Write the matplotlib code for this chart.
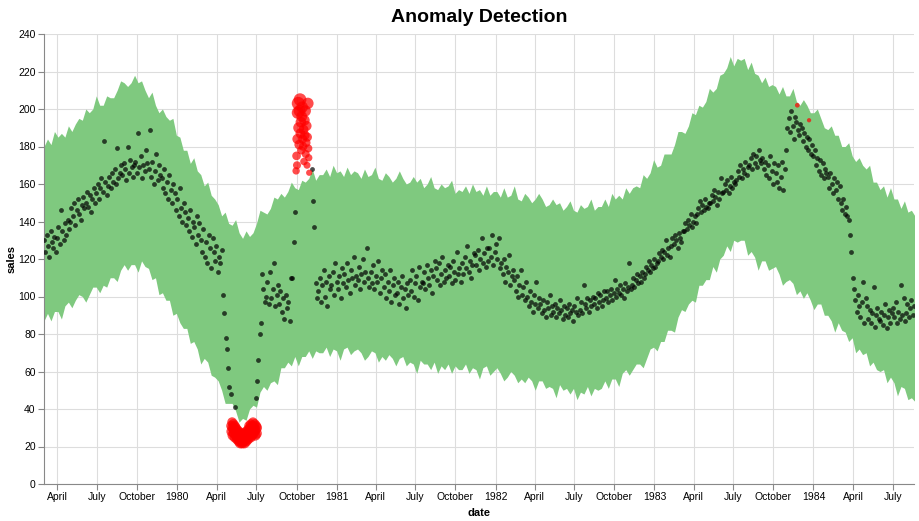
import numpy as np
import pandas as pd
import matplotlib
matplotlib.use('Agg')
import matplotlib.pyplot as plt
import matplotlib.dates as mdates

plt.rcParams['font.family'] = ['Liberation Sans', 'DejaVu Sans']

# observed sales, one reading every 3 days from 1979-03-01
# (None where the reading is flagged as an anomaly, those are listed below)
sales = [
    130, 124, 133, 127, 121, 135, 129, 126, 132, 124,
    131, 137, 128, 146, 135, 130, 139, 133, 141, 136,
    140, 147, 143, 150, 138, 146, 152, 144, 141, 149,
    153, 147, 150, 156, 148, 154, 145, 152, 158, 150,
    155, 160, 152, 158, 163, 156, 183, 161, 154, 159,
    164, 158, 166, 161, 168, 160, 179, 163, 166, 170,
    165, 171, 168, 162, 180, 166, 173, 169, 164, 170,
    172, 166, 187, 169, 175, 163, 170, 167, 178, 171,
    168, 189, 164, 172, 160, 167, 176, 162, 170, 165,
    163, 158, 168, 155, 161, 152, 165, 157, 150, 160,
    155, 146, 152, 143, 158, 147, 140, 150, 145, 138,
    142, 135, 146, 132, 140, 137, 128, 143, 133, 139,
    130, 124, 136, 121, 129, 118, 133, 126, 115, 131,
    124, 119, 127, 113, 121, 118, 125, 101, 91, 78,
    72, 62, 52, 48, None, None, 41, None, None, None,
    None, None, None, None, None, None, None, None, None, None,
    None, None, 46, 55, 66, 80, 86, 112, 104, 97,
    100, 108, 96, 113, 99, 104, 118, 95, 101, 106,
    96, 103, 92, 99, 88, 101, 94, 97, 87, 110,
    110, 129, 145, None, None, None, None, None, None, None,
    None, None, None, None, None, 168, 151, 137, 107, 99,
    103, 110, 97, 106, 114, 100, 108, 95, 111, 104,
    106, 113, 101, 118, 108, 104, 111, 99, 115, 107,
    112, 105, 118, 109, 102, 114, 110, 121, 106, 111,
    109, 116, 104, 112, 120, 108, 113, 126, 110, 105,
    113, 107, 117, 104, 111, 108, 119, 102, 110, 114,
    105, 112, 99, 108, 103, 114, 97, 106, 110, 101,
    102, 108, 96, 105, 111, 99, 104, 94, 107, 101,
    109, 103, 114, 100, 107, 111, 98, 116, 105, 108,
    107, 113, 104, 117, 110, 106, 114, 102, 111, 119,
    115, 109, 118, 106, 112, 121, 108, 114, 110, 117,
    111, 116, 107, 119, 113, 109, 124, 112, 115, 108,
    118, 112, 121, 115, 127, 113, 119, 110, 117, 123,
    122, 117, 125, 114, 120, 131, 118, 123, 116, 126,
    119, 126, 121, 133, 117, 124, 128, 120, 131, 115,
    118, 112, 120, 108, 116, 113, 122, 106, 111, 114,
    109, 103, 111, 100, 106, 114, 101, 105, 98, 108,
    100, 95, 103, 97, 92, 101, 96, 108, 94, 99,
    96, 91, 98, 93, 89, 97, 94, 101, 90, 95,
    92, 96, 89, 94, 91, 98, 93, 88, 95, 90,
    94, 89, 96, 91, 93, 87, 95, 92, 99, 90,
    93, 97, 91, 106, 96, 94, 99, 92, 98, 95,
    100, 96, 99, 94, 102, 97, 101, 95, 98, 103,
    99, 103, 97, 101, 104, 98, 102, 109, 100, 104,
    102, 106, 101, 104, 99, 107, 103, 105, 118, 104,
    106, 110, 105, 109, 112, 107, 111, 108, 113, 110,
    112, 116, 114, 119, 113, 117, 115, 120, 116, 118,
    119, 123, 121, 125, 120, 124, 130, 122, 126, 121,
    127, 131, 128, 133, 130, 126, 134, 131, 129, 135,
    135, 139, 136, 141, 138, 144, 137, 140, 143, 139,
    144, 147, 151, 145, 149, 146, 152, 148, 147, 150,
    150, 154, 151, 157, 153, 149, 156, 152, 163, 155,
    156, 160, 157, 162, 155, 159, 164, 158, 161, 160,
    162, 167, 164, 170, 163, 168, 166, 172, 165, 169,
    170, 174, 168, 176, 171, 175, 169, 178, 173, 171,
    174, 168, 172, 165, 170, 163, 175, 167, 160, 171,
    166, 161, 170, 158, 164, 172, 157, 168, 178, 190,
    195, 188, 199, 191, 184, 196, 193, 189, 186, 192,
    190, 183, 187, 180, 185, 178, 184, 176, 181, 175,
    178, 170, 174, 167, 173, 165, 171, 163, 168, 166,
    164, 158, 166, 160, 155, 163, 157, 161, 152, 159,
    150, 146, 152, 144, 148, 143, 141, 133, 124, 110,
    104, 98, 92, 101, 95, 89, 97, 108, 86, 99,
    95, 88, 93, 86, 91, 105, 84, 90, 94, 88,
    87, 92, 85, 90, 96, 83, 89, 93, 86, 91,
    94, 89, 97, 86, 92, 88, 106, 90, 99, 87,
    91, 96, 89, 94, 98, 90, 95,
]

# expected range from the model, one value every 8 days from 1979-03-01
band_upper = [
    180, 184, 181, 188, 185, 187, 185, 191, 188, 192,
    195, 194, 200, 198, 200, 207, 202, 202, 207, 206,
    206, 210, 215, 214, 212, 214, 218, 214, 215, 210,
    206, 209, 202, 198, 200, 196, 194, 195, 186, 185,
    178, 178, 171, 174, 167, 165, 159, 161, 154, 152,
    149, 143, 145, 139, 138, 141, 134, 131, 135, 132,
    134, 139, 146, 145, 144, 147, 153, 152, 155, 153,
    156, 161, 158, 157, 162, 161, 163, 168, 162, 165,
    165, 168, 164, 170, 166, 167, 164, 169, 165, 167,
    166, 163, 168, 164, 165, 169, 163, 162, 166, 164,
    161, 163, 167, 163, 160, 161, 164, 161, 163, 158,
    160, 164, 158, 157, 160, 158, 159, 162, 155, 157,
    156, 159, 155, 160, 156, 157, 154, 159, 154, 156,
    156, 153, 158, 153, 154, 159, 152, 151, 155, 153,
    150, 152, 155, 152, 148, 149, 152, 149, 150, 146,
    148, 151, 146, 145, 149, 147, 148, 152, 146, 148,
    148, 152, 148, 155, 152, 154, 152, 158, 155, 158,
    159, 158, 165, 163, 166, 173, 169, 170, 176, 176,
    176, 181, 188, 188, 187, 191, 198, 197, 202, 201,
    204, 211, 209, 211, 218, 219, 222, 228, 223, 227,
    226, 227, 221, 225, 219, 218, 214, 217, 212, 213,
    212, 208, 212, 207, 207, 211, 204, 202, 205, 202,
    198, 198, 200, 195, 190, 189, 191, 186, 186, 180,
    180, 182, 175, 172, 174, 170, 168, 170, 161, 161,
    157, 159, 153, 158, 152, 152, 147, 151, 145, 146,
    143,
]
band_lower = [
    87, 91, 87, 92, 92, 88, 95, 97, 94, 98,
    101, 100, 97, 101, 105, 105, 102, 106, 105, 110,
    110, 108, 114, 117, 114, 117, 117, 113, 119, 116,
    115, 109, 110, 101, 102, 98, 98, 90, 91, 86,
    83, 83, 75, 76, 72, 64, 67, 65, 58, 57,
    55, 50, 43, 43, 43, 39, 33, 35, 34, 40,
    42, 41, 49, 52, 50, 54, 55, 53, 62, 62,
    65, 63, 68, 63, 68, 68, 71, 67, 71, 70,
    70, 73, 68, 72, 71, 66, 72, 73, 69, 71,
    72, 70, 66, 68, 71, 70, 65, 68, 66, 69,
    67, 63, 67, 68, 63, 65, 64, 59, 66, 64,
    64, 61, 65, 59, 63, 61, 64, 59, 63, 61,
    61, 64, 59, 62, 61, 56, 62, 63, 58, 60,
    62, 59, 55, 57, 60, 58, 54, 56, 54, 57,
    55, 50, 55, 55, 51, 52, 51, 46, 53, 50,
    51, 48, 51, 45, 49, 48, 52, 47, 51, 50,
    51, 55, 51, 56, 56, 52, 59, 61, 58, 61,
    64, 64, 62, 67, 72, 73, 71, 76, 76, 82,
    82, 81, 89, 93, 92, 96, 98, 97, 106, 106,
    109, 109, 116, 113, 120, 122, 127, 124, 130, 129,
    130, 130, 122, 124, 121, 114, 119, 119, 114, 115,
    116, 112, 106, 108, 109, 107, 101, 103, 99, 102,
    98, 93, 96, 96, 90, 90, 87, 81, 86, 82,
    81, 76, 78, 70, 72, 69, 70, 63, 65, 61,
    60, 61, 54, 57, 54, 47, 52, 51, 45, 46,
    44,
]

# anomalies: the spring 1980 slump and the October 1980 spike (daily),
# plus two late 1983 readings
slump_start = '1980-05-04'
slump_values = [31, 28, 33, 30, 26, 32, 29, 27, 31, 25, 30, 28, 26, 29, 24,
                27, 25, 28, 23, 26, 24, 22, 25, 23, 27, 22, 24, 26, 23, 25,
                22, 27, 24, 26, 23, 28, 25, 27, 24, 29, 26, 31, 27, 30, 25,
                32, 28, 26, 31, 29, 33, 27, 30, 28, 32, 26, 29, 31, 27, 30]
spike_start = '1980-09-30'
spike_values = [167, 175, 170, 184, 198, 203, 190, 181, 199, 205, 187, 193,
                178, 196, 201, 184, 180, 189, 172, 194, 186, 199, 176, 182,
                191, 170, 185, 203, 179, 174, 166]
late_dates = ['1983-11-25', '1983-12-22']
late_values = [202, 194]

sales_dates = pd.date_range('1979-03-01', periods=len(sales), freq='3D')
sales_arr = np.array(sales, dtype=float)
band_dates = pd.date_range('1979-03-01', periods=len(band_upper), freq='8D')

anom_dates = pd.DatetimeIndex(
    list(pd.date_range(slump_start, periods=len(slump_values), freq='D'))
    + list(pd.date_range(spike_start, periods=len(spike_values), freq='D'))
    + list(pd.to_datetime(late_dates)))
anom_values = np.array(slump_values + spike_values + late_values, dtype=float)

# marker size grows with how far the reading sits from the middle of the band
band_mid = (np.array(band_upper) + np.array(band_lower)) / 2
mid_at = np.interp(mdates.date2num(anom_dates), mdates.date2num(band_dates), band_mid)
ratio = np.abs(anom_values - mid_at) / mid_at
diam_px = 4 + np.clip(ratio - 0.28, 0, None) * 16
anom_sizes = (diam_px * 0.72) ** 2

fig, ax = plt.subplots(figsize=(9.19, 5.21), dpi=100)
fig.subplots_adjust(left=44 / 919, right=914 / 919, bottom=1 - 484 / 521, top=1 - 34 / 521)

ax.fill_between(band_dates, band_lower, band_upper, color='#7fc97f', lw=0, zorder=2)
ax.scatter(sales_dates, sales_arr, s=12, c='black', alpha=0.7, lw=0, zorder=3)
ax.scatter(anom_dates, anom_values, s=anom_sizes, c='red', alpha=0.7, lw=0, zorder=4)

# quarterly ticks, year shown at January
ticks = pd.date_range('1979-04-01', '1984-07-01', freq='QS')
labels = [str(t.year) if t.month == 1 else t.strftime('%B') for t in ticks]
ax.set_xticks(ticks)
ax.set_xticklabels(labels)
ax.set_xlim(sales_dates[0], sales_dates[-1])
ax.set_ylim(0, 240)
ax.set_yticks(range(0, 241, 20))

ax.grid(True, color='#dddddd', lw=0.8)
ax.set_axisbelow(True)
for side in ['top', 'right']:
    ax.spines[side].set_visible(False)
for side in ['left', 'bottom']:
    ax.spines[side].set_color('#888888')
    ax.spines[side].set_linewidth(0.8)
ax.tick_params(colors='#888888', labelcolor='black', labelsize=7.5, length=4, width=0.8, pad=2)

ax.set_xlabel('date', fontweight='bold', fontsize=8, labelpad=4)
ax.set_ylabel('sales', fontweight='bold', fontsize=8, labelpad=1)
ax.set_title('Anomaly Detection', fontweight='bold', fontsize=14, pad=9)

fig.savefig('out.png', dpi=100)
